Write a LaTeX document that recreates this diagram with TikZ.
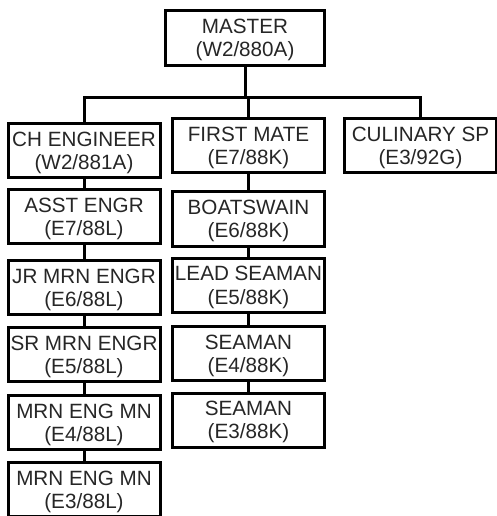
\documentclass[tikz,border=0pt]{standalone}
\usepackage{fontspec}
\setmainfont{Liberation Sans}
\usetikzlibrary{positioning}
\tikzset{
    post/.style = {draw, rectangle, line width=2.25pt, minimum width=114pt, minimum height=40.5pt,
                   inner sep=0pt, text depth=0pt, align=center, text=black!85,
                   font=\fontsize{15.5}{17.5}\selectfont},
    link/.style = {line width=2.25pt},
}
\begin{document}
\begin{tikzpicture}[x=0.75pt, y=-0.75pt]
\useasboundingbox (0,0) rectangle (496,516);

% Top of the chart
\node[post, minimum width=119.25pt, minimum height=41.25pt] (master) at (245,38) {MASTER\\(W2/880A)};
\coordinate[below=22.9pt of master.south] (split);

% First level
\node[post] (cheng) at (84,150.5) {CH ENGINEER\\(W2/881A)};
\node[post] (mate) at (248.5,146) {FIRST MATE\\(E7/88K)};
\node[post] (culinary) at (420.5,145.5) {CULINARY SP\\(E3/92G)};

% Engine column
\node[post, below=7pt of cheng] (asst) {ASST ENGR\\(E7/88L)};
\node[post, below=10.5pt of asst] (jrmrn) {JR MRN ENGR\\(E6/88L)};
\node[post, below=7.5pt of jrmrn] (srmrn) {SR MRN ENGR\\(E5/88L)};
\node[post, below=8pt of srmrn] (engmnf) {MRN ENG MN\\(E4/88L)};
\node[post, below=7.5pt of engmnf] (engmnt) {MRN ENG MN\\(E3/88L)};

% Deck column
\node[post, below=12pt of mate] (boatswain) {BOATSWAIN\\(E6/88K)};
\node[post, below=7pt of boatswain] (lead) {LEAD SEAMAN\\(E5/88K)};
\node[post, below=8.5pt of lead] (seamanf) {SEAMAN\\(E4/88K)};
\node[post, below=7pt of seamanf] (seamant) {SEAMAN\\(E3/88K)};

% Branches from the master
\draw[link] (master) -- (split);
\draw[link] (split) -| (cheng);
\draw[link] (split) -| (mate);
\draw[link] (split) -| (culinary);

% Chains down each column
\draw[link] (cheng) -- (asst);
\draw[link] (asst) -- (jrmrn);
\draw[link] (jrmrn) -- (srmrn);
\draw[link] (srmrn) -- (engmnf);
\draw[link] (engmnf) -- (engmnt);

\draw[link] (mate) -- (boatswain);
\draw[link] (boatswain) -- (lead);
\draw[link] (lead) -- (seamanf);
\draw[link] (seamanf) -- (seamant);

\end{tikzpicture}
\end{document}
